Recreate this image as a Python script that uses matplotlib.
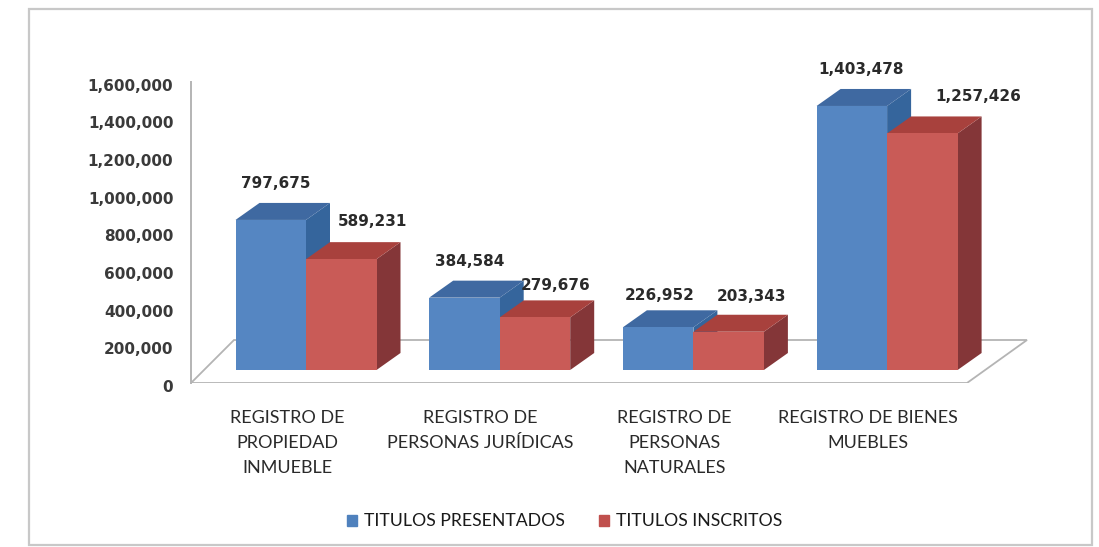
import matplotlib
matplotlib.use("Agg")
import matplotlib.pyplot as plt
from matplotlib.patches import Patch, Polygon, Rectangle
from matplotlib.transforms import ScaledTranslation

plt.rcParams["font.family"] = ["Lato", "DejaVu Sans"]

# Data
categories = ["REGISTRO DE\nPROPIEDAD\nINMUEBLE", "REGISTRO DE\nPERSONAS JURÍDICAS",
              "REGISTRO DE\nPERSONAS\nNATURALES", "REGISTRO DE BIENES\nMUEBLES"]
presentados = [797675, 384584, 226952, 1403478]
inscritos = [589231, 279676, 203343, 1257426]
y_ticks = [0, 200000, 400000, 600000, 800000, 1000000, 1200000, 1400000, 1600000]

# label nudges in pixels (hand placed in the original)
off_pres = [(5, 36), (5, 36), (2, 32), (9, 36)]
off_insc = [(31, 38), (21, 32), (23, 35), (56, 37)]

W, H = 1099, 547
fig = plt.figure(figsize=(W / 100, H / 100), dpi=100)

# outer frame of the chart
fig.add_artist(Rectangle((29 / W, 1 - 545 / H), (1092 - 29) / W, (545 - 9) / H, transform=fig.transFigure,
                         fill=False, edgecolor="#c8c8c8", linewidth=1.6))

# plot area in pixels, 3d look is worked out from these
left, right, top, bottom = 191, 1030, 40, 383
ax = fig.add_axes([left / W, 1 - bottom / H, (right - left) / W, (bottom - top) / H])
ax.patch.set_alpha(0)
px_per_val = 301 / 1600000
px_per_cat = 193.7
ax.set_xlim((left - 306) / px_per_cat, (right - 306) / px_per_cat)
ax.set_ylim(0, (bottom - top) / px_per_val)

dx = 24 / px_per_cat
dy = 17 / px_per_val
lift = 13 / px_per_val
bar_w = 70.5 / px_per_cat

for s in ["top", "right", "bottom"]:
    ax.spines[s].set_visible(False)
ax.spines["left"].set_color("#b4b4b4")
ax.spines["left"].set_linewidth(1.4)
ax.spines["left"].set_bounds(0, 1600000)

# floor
x0, x1 = ax.get_xlim()
fx = (967 - 306) / px_per_cat
floor = Polygon([(x0, 0), (fx, 0), (x1 - 3 / px_per_cat, 43 / px_per_val), (x0 + 43 / px_per_cat, 43 / px_per_val)],
                closed=True, facecolor="white", edgecolor="#b4b4b4", linewidth=1.3)
ax.add_patch(floor)


def bar3d(x, val, front, top_c, side):
    base = lift
    t = lift + val
    r = x + bar_w
    ax.bar(x, val, bar_w, bottom=base, align="edge", color=front, linewidth=0, zorder=4)
    ax.add_patch(Polygon([(r, base), (r + dx, base + dy), (r + dx, t + dy), (r, t)], facecolor=side, linewidth=0, zorder=3))
    ax.add_patch(Polygon([(x, t), (x + dx, t + dy), (r + dx, t + dy), (r, t)], facecolor=top_c, linewidth=0, zorder=3))


for i in range(len(categories)):
    # blue first, the red one sits on top of its side face
    bar3d(i - bar_w, presentados[i], "#5586c2", "#3f69a1", "#35659c")
    bar3d(i, inscritos[i], "#c95b57", "#a8413d", "#843638")
    ax.annotate(f"{presentados[i]:,}", (i - bar_w / 2, presentados[i] + lift),
                xytext=(off_pres[i][0] * 0.72, off_pres[i][1] * 0.72), textcoords="offset points",
                ha="center", va="center", fontsize=11, fontweight="bold", color="#2a2a2a", zorder=6,
                family="DejaVu Sans")
    ax.annotate(f"{inscritos[i]:,}", (i + bar_w / 2, inscritos[i] + lift),
                xytext=(off_insc[i][0] * 0.72, off_insc[i][1] * 0.72), textcoords="offset points",
                ha="center", va="center", fontsize=11, fontweight="bold", color="#2a2a2a", zorder=6,
                family="DejaVu Sans")

ax.set_yticks(y_ticks)
ax.set_yticklabels([f"{v:,}" for v in y_ticks], fontsize=11, fontweight="bold", color="#3a3a3a", family="DejaVu Sans")
ax.tick_params(axis="y", length=0, pad=12.7)
# labels sit a little under their tick value in the original
for lab in ax.get_yticklabels():
    lab.set_transform(lab.get_transform() + ScaledTranslation(0, -2 / 72, fig.dpi_scale_trans))

ax.set_xticks([i - 0.098 for i in range(len(categories))])
ax.set_xticklabels(categories, fontsize=13, color="#2a2a2a", linespacing=1.7, va="top")
ax.tick_params(axis="x", length=0, pad=19.5)

handles = [Patch(color="#4f81bd", label="TITULOS PRESENTADOS"), Patch(color="#c0504d", label="TITULOS INSCRITOS")]
fig.legend(handles=handles, loc="center", bbox_to_anchor=(565 / W, 1 - 521.5 / H), ncol=2, frameon=False,
           fontsize=12.7, handlelength=0.57, handleheight=0.57, handletextpad=0.4, columnspacing=1.93,
           labelcolor="#1a1a1a")

plt.savefig("out.png", dpi=100)
